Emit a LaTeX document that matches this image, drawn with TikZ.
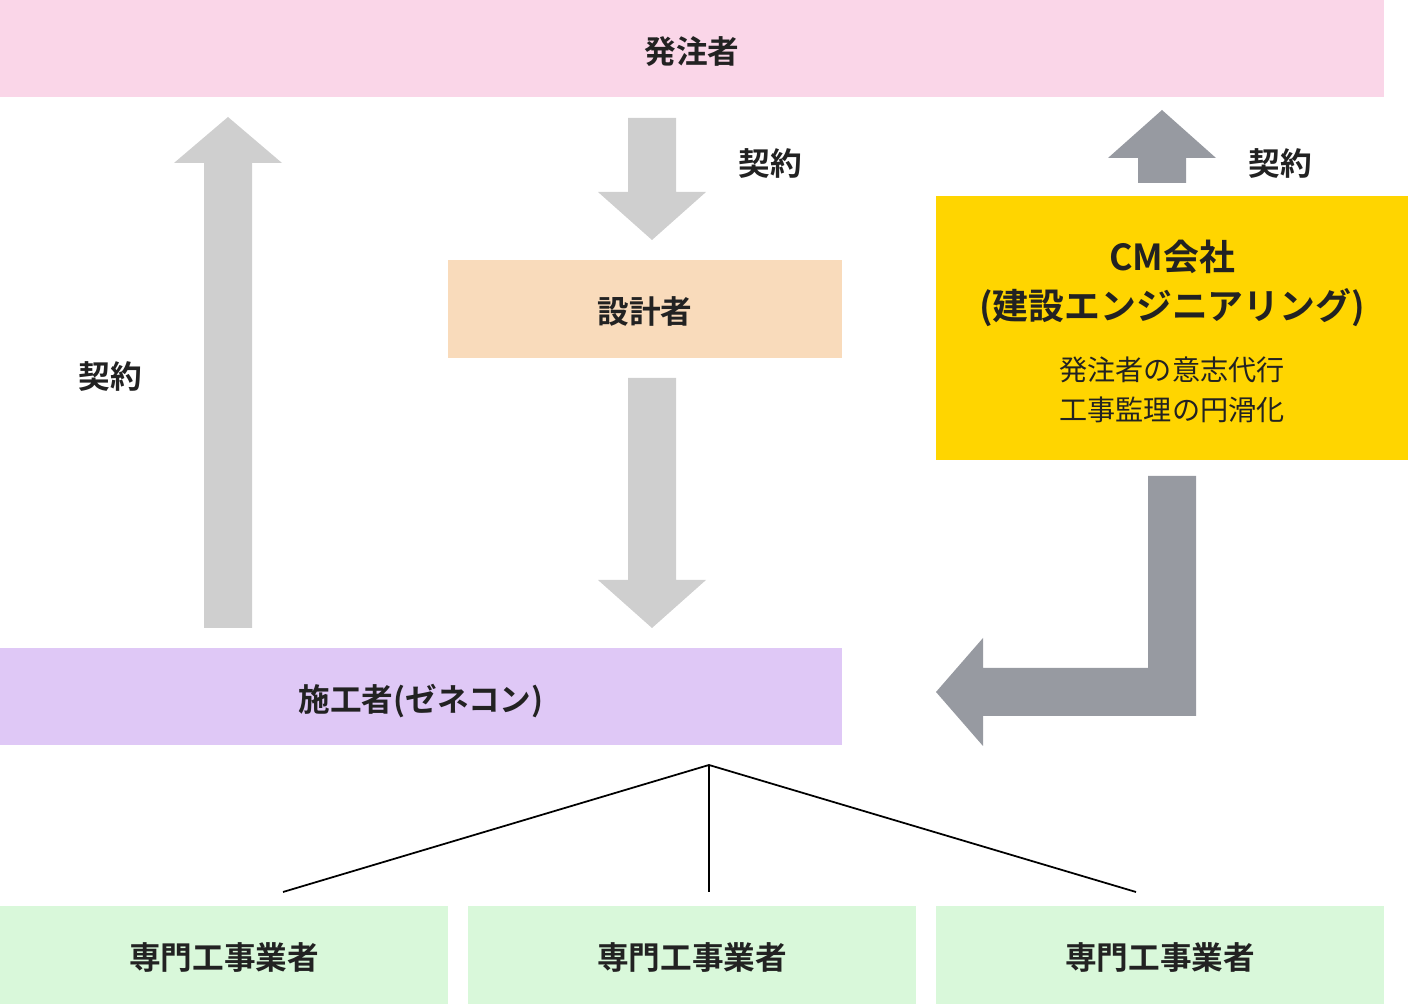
\documentclass[tikz,border=0pt]{standalone}
\usepackage{fontspec}
\setmainfont{Noto Sans CJK JP}[BoldFont={Noto Sans CJK JP Bold}]
\usepackage{xcolor}
\usepackage{tikz}
\usetikzlibrary{positioning}

\definecolor{clientpink}{RGB}{250,214,232}
\definecolor{designpeach}{RGB}{249,219,187}
\definecolor{cmyellow}{RGB}{255,213,0}
\definecolor{gclavender}{RGB}{223,200,246}
\definecolor{subgreen}{RGB}{217,248,218}
\definecolor{arrowlight}{RGB}{207,207,207}
\definecolor{arrowdark}{RGB}{151,154,161}
\definecolor{textgray}{RGB}{34,34,34}

\begin{document}
\begin{tikzpicture}[x=0.01cm, y=-0.01cm,
		box/.style={rectangle, inner sep=0pt, text=textgray,
			text height=0.96em, text depth=0.12em,
			font=\bfseries\fontsize{9}{9}\selectfont},
		cmtext/.style={inner sep=0pt, text=textgray},
		keiyaku/.style={inner sep=0pt, text=textgray,
			font=\bfseries\fontsize{9}{9}\selectfont},
		lightarrow/.style={fill=arrowlight},
		darkarrow/.style={fill=arrowdark},
		branch/.style={draw=black, line width=0.5pt}]
			\useasboundingbox (0,0) rectangle (1408,1004);

			\node[box, fill=clientpink, minimum width=13.84cm, minimum height=0.97cm]
				(client) at (692,48.5) {発注者};
			\node[box, fill=designpeach, minimum width=3.94cm, minimum height=0.98cm]
				(designer) at (645,309) {設計者};
			\node[box, fill=cmyellow, minimum width=4.72cm, minimum height=2.64cm]
				(cm) at (1172,328) {};
			\node[box, fill=gclavender, minimum width=8.42cm, minimum height=0.97cm]
				(contractor) at (421,696.5) {施工者(ゼネコン)};

			\node[box, fill=subgreen, minimum width=4.48cm, minimum height=0.98cm]
				(sub1) at (224,955) {専門工事業者};
			\node[box, fill=subgreen, minimum width=4.48cm, minimum height=0.98cm]
				(sub2) at (692,955) {専門工事業者};
			\node[box, fill=subgreen, minimum width=4.48cm, minimum height=0.98cm]
				(sub3) at (1160,955) {専門工事業者};

			\node[cmtext, font=\bfseries\fontsize{10.2}{10.2}\selectfont] (cmname) at (1172,257) {CM会社};
			\node[cmtext, font=\bfseries\fontsize{10.2}{10.2}\selectfont] (cmkind) at (1172,308) {(建設エンジニアリング)};
			\node[cmtext, font=\fontsize{8}{8}\selectfont] (cmrole1) at (1172,370) {発注者の意志代行};
			\node[cmtext, font=\fontsize{8}{8}\selectfont] (cmrole2) at (1172,410) {工事監理の円滑化};

			\node[keiyaku] (keiyaku1) at (110,377) {契約};
			\node[keiyaku] (keiyaku2) at (770,164) {契約};
			\node[keiyaku] (keiyaku3) at (1280,164) {契約};

			\fill[lightarrow] (204,628) -- (204,163) -- (174,163) -- (228,117)
				-- (282,163) -- (252,163) -- (252,628) -- cycle;
			\fill[lightarrow] (628,118) -- (676,118) -- (676,192) -- (706,192)
				-- (652,240) -- (598,192) -- (628,192) -- cycle;
			\fill[lightarrow] (628,378) -- (676,378) -- (676,580) -- (706,580)
				-- (652,628) -- (598,580) -- (628,580) -- cycle;
			\fill[darkarrow] (1138,183) -- (1138,158) -- (1108,158) -- (1162,110)
				-- (1216,158) -- (1186,158) -- (1186,183) -- cycle;
			\fill[darkarrow] (1148,476) -- (1196,476) -- (1196,716) -- (983,716)
				-- (983,746) -- (936,692) -- (983,638) -- (983,668) -- (1148,668) -- cycle;

			\coordinate (fork) at (709,765);
			\coordinate (sub1top) at (283,892);
			\coordinate (sub2top) at (709,892);
			\coordinate (sub3top) at (1136,892);
			\draw[branch] (sub1top) -- (fork) -- (sub3top);
			\draw[branch] (fork) -- (sub2top);
		\end{tikzpicture}
\end{document}
